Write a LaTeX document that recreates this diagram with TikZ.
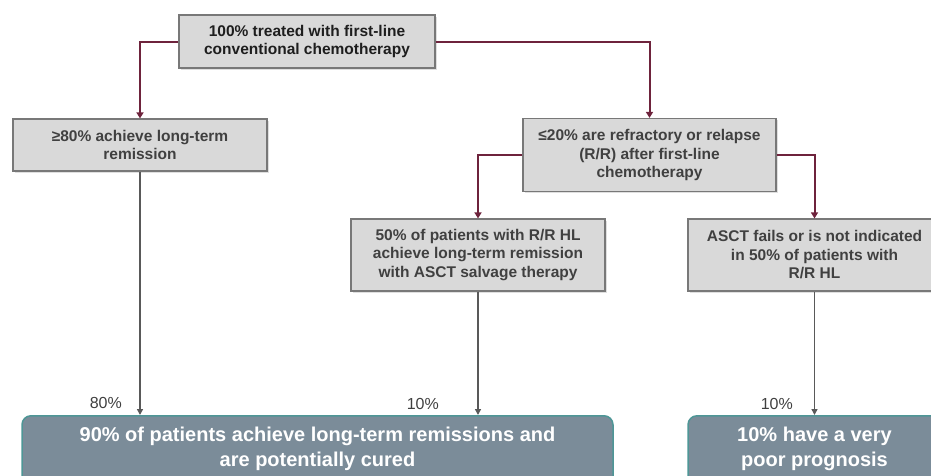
\documentclass[tikz,border=0pt]{standalone}
\usepackage{fontspec}
\setmainfont{Liberation Sans}
\usetikzlibrary{arrows.meta,shadows}
\definecolor{maroonc}{RGB}{110,35,60}
\definecolor{boxfill}{RGB}{217,217,217}
\definecolor{boxline}{RGB}{120,120,120}
\definecolor{boxtext}{RGB}{64,64,64}
\definecolor{toptext}{RGB}{30,30,30}
\definecolor{outfill}{RGB}{123,140,153}
\definecolor{outline}{RGB}{78,150,150}
\definecolor{greyarrow}{RGB}{89,89,89}
\tikzset{
  greybox/.style={draw=boxline, line width=1.2pt, fill=boxfill, align=center,
    inner sep=0pt, text=boxtext,
    font=\fontsize{15.5}{18.5}\selectfont\bfseries,
    drop shadow={opacity=0.25, shadow xshift=1.5pt, shadow yshift=-1.5pt}},
  outbox/.style={draw=outline, line width=1.5pt, fill=outfill, rounded corners=9pt,
    align=center, inner sep=0pt, text=white,
    font=\fontsize{20}{25}\selectfont\bfseries},
  maroonarrow/.style={draw=maroonc, line width=2pt, -{Triangle[width=7pt,length=6pt]}},
  greyarr/.style={draw=greyarrow, line width=1.5pt, -{Triangle[width=6pt,length=6pt]}},
  pctlabel/.style={font=\fontsize{16}{18}\selectfont, text=boxtext, anchor=base east, inner sep=0pt}
}
\newcommand{\lowstrut}{\rule[-14pt]{0pt}{1pt}}
\begin{document}
\begin{tikzpicture}[x=1pt,y=-1pt]
\useasboundingbox (0,0) rectangle (931,475);
\clip (0,0) rectangle (931,475);
\node[greybox, text=toptext, minimum width=256pt, minimum height=53pt] (top) at (307,41.5)
  {100\% treated with first-line\\conventional chemotherapy};
\node[greybox, minimum width=254pt, minimum height=52pt] (left) at (140,145)
  {≥80\% achieve long-term\\remission};
\node[greybox, minimum width=253pt, minimum height=73pt] (rr) at (649.5,155)
  {≤20\% are refractory or relapse\\(R/R) after first-line\\chemotherapy};
\node[greybox, minimum width=254pt, minimum height=72pt] (salv) at (478,255)
  {50\% of patients with R/R HL\\achieve long-term remission\\with ASCT salvage therapy};
\node[greybox, minimum width=253pt, minimum height=72pt] (fail) at (814.5,255)
  {ASCT fails or is not indicated\\in 50\% of patients with\\R/R HL};
\node[outbox, minimum width=591pt, minimum height=76pt, anchor=north] (cure) at (317.5,415)
  {90\% of patients achieve long-term remissions and\\are potentially cured\lowstrut};
\node[outbox, minimum width=253pt, minimum height=76pt, anchor=north] (poor) at (814.5,415)
  {10\% have a very\\poor prognosis\lowstrut};
\draw[maroonarrow] (top.west) -| (left.north);
\draw[maroonarrow] (top.east) -| (rr.north);
\draw[maroonarrow] (rr.west) -| (salv.north);
\draw[maroonarrow] (rr.east) -| (fail.north);
\draw[greyarr] (left.south) -- (left.south |- cure.north);
\draw[greyarr] (salv.south) -- (salv.south |- cure.north);
\draw[greyarr] (fail.south) -- (fail.south |- poor.north);
\node[pctlabel] (l80) at (122,408) {80\%};
\node[pctlabel] (l10a) at (439,409) {10\%};
\node[pctlabel] (l10b) at (793,409) {10\%};
\end{tikzpicture}
\end{document}
